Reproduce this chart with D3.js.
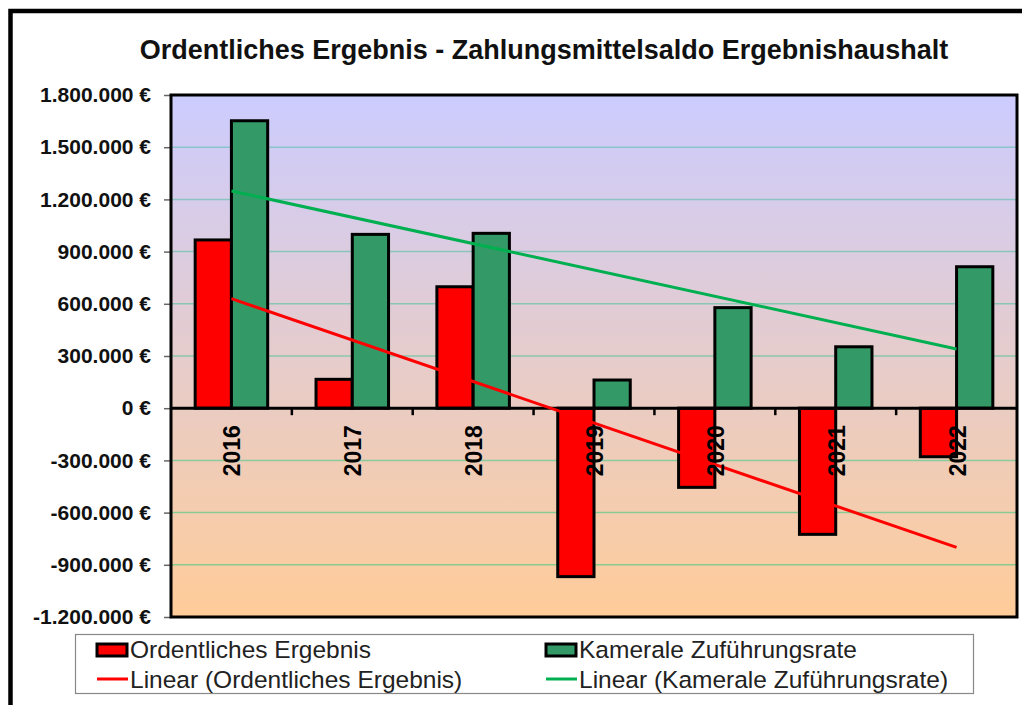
<!DOCTYPE html>
<html>
<head>
<meta charset="utf-8">
<script src="https://cdn.jsdelivr.net/npm/d3@7"></script>
<style>
  body { margin: 0; background: #fff; }
  text { font-family: "Liberation Sans", Arial, sans-serif; }
</style>
</head>
<body>
<script>
var years = ["2016", "2017", "2018", "2019", "2020", "2021", "2022"];
var ordentlich = [967000, 166000, 698000, -968000, -455000, -725000, -279000];
var kameral = [1652000, 999000, 1005000, 162000, 578000, 353000, 813000];
var yTicks = [-1200000, -900000, -600000, -300000, 0, 300000, 600000, 900000, 1200000, 1500000, 1800000];
var seriesNames = ["Ordentliches Ergebnis", "Kamerale Zuführungsrate"];

var width = 1022, height = 705;
var plotL = 171, plotR = 1017, plotT = 95, plotB = 617;

var de = d3.formatLocale({ decimal: ",", thousands: ".", grouping: [3], currency: ["", " €"], minus: "-" });
var fmt = de.format(",.0f");

var svg = d3.select("body").append("svg")
    .attr("width", width)
    .attr("height", height);

// outer frame
svg.append("rect")
    .attr("x", 10.5).attr("y", 11)
    .attr("width", 1030).attr("height", 720)
    .attr("fill", "#fff")
    .attr("stroke", "#000")
    .attr("stroke-width", 4.5);

var defs = svg.append("defs");
var grad = defs.append("linearGradient")
    .attr("id", "bg").attr("x1", 0).attr("y1", 0).attr("x2", 0).attr("y2", 1);
grad.append("stop").attr("offset", "0%").attr("stop-color", "#ccccff");
grad.append("stop").attr("offset", "100%").attr("stop-color", "#ffcc99");

var x = d3.scaleBand().domain(years).range([plotL, plotR]);
var y = d3.scaleLinear().domain([-1200000, 1800000]).range([plotB, plotT]);
var bw = x.bandwidth() * 0.3;

svg.append("rect")
    .attr("x", plotL).attr("y", plotT)
    .attr("width", plotR - plotL).attr("height", plotB - plotT)
    .attr("fill", "url(#bg)");

// gridlines, teal at top turning green at the bottom
var gridCol = d3.interpolateRgb("#8cc2d2", "#86cc86");
svg.append("g").selectAll("line")
    .data(yTicks.filter(function(d) { return d !== 0 && d !== 1800000 && d !== -1200000; }))
    .enter().append("line")
    .attr("x1", plotL).attr("x2", plotR)
    .attr("y1", function(d) { return y(d); })
    .attr("y2", function(d) { return y(d); })
    .attr("stroke", function(d) { return gridCol((y(d) - plotT) / (plotB - plotT)); })
    .attr("stroke-width", 1.5);

// y axis labels and ticks
var yAxis = svg.append("g")
    .attr("transform", "translate(" + plotL + ",0)")
    .call(d3.axisLeft(y).tickValues(yTicks).tickSize(7).tickPadding(13)
        .tickFormat(function(d) { return fmt(d) + " €"; }));
yAxis.select(".domain").remove();
yAxis.selectAll(".tick line").attr("stroke", "#666").attr("stroke-width", 1.5);
yAxis.selectAll("text")
    .attr("fill", "#111")
    .style("font-size", "21px")
    .style("font-weight", "bold")
    .style("font-family", "'Liberation Sans', Arial, sans-serif");

// bars
var bars = svg.append("g");
bars.selectAll(".red")
    .data(ordentlich)
    .enter().append("rect")
    .attr("x", function(d, i) { return x(years[i]) + x.bandwidth() / 2 - bw; })
    .attr("y", function(d) { return y(Math.max(0, d)); })
    .attr("width", bw)
    .attr("height", function(d) { return Math.abs(y(d) - y(0)); })
    .attr("fill", "#ff0000")
    .attr("stroke", "#000")
    .attr("stroke-width", 3);
bars.selectAll(".green")
    .data(kameral)
    .enter().append("rect")
    .attr("x", function(d, i) { return x(years[i]) + x.bandwidth() / 2; })
    .attr("y", function(d) { return y(Math.max(0, d)); })
    .attr("width", bw)
    .attr("height", function(d) { return Math.abs(y(d) - y(0)); })
    .attr("fill", "#339966")
    .attr("stroke", "#000")
    .attr("stroke-width", 3);

// category axis at zero
svg.append("line")
    .attr("x1", plotL).attr("x2", plotR)
    .attr("y1", y(0)).attr("y2", y(0))
    .attr("stroke", "#000").attr("stroke-width", 3);
svg.append("g").selectAll("line")
    .data(years.slice(1))
    .enter().append("line")
    .attr("x1", function(d) { return x(d); })
    .attr("x2", function(d) { return x(d); })
    .attr("y1", y(0)).attr("y2", y(0) + 7)
    .attr("stroke", "#000").attr("stroke-width", 2.5);

// linear trend lines (least squares over category index)
function trend(vals) {
    var n = vals.length, mx = (n - 1) / 2, my = d3.mean(vals);
    var sxy = d3.sum(vals, function(v, i) { return (i - mx) * (v - my); });
    var sxx = d3.sum(vals, function(v, i) { return (i - mx) * (i - mx); });
    var b = sxy / sxx;
    return [[0, my - b * mx], [n - 1, my + b * (n - 1 - mx)]];
}
var line = d3.line()
    .x(function(d) { return x(years[d[0]]) + x.bandwidth() / 2; })
    .y(function(d) { return y(d[1]); });
svg.append("path").attr("d", line(trend(ordentlich)))
    .attr("stroke", "#ff0000").attr("stroke-width", 3).attr("fill", "none");
svg.append("path").attr("d", line(trend(kameral)))
    .attr("stroke", "#00b050").attr("stroke-width", 3).attr("fill", "none");

// year labels, rotated
svg.append("g").selectAll("text")
    .data(years)
    .enter().append("text")
    .attr("transform", function(d) {
        return "translate(" + (x(d) + x.bandwidth() / 2 + 9) + "," + (y(0) + 17) + ") rotate(-90)";
    })
    .attr("text-anchor", "end")
    .attr("fill", "#000")
    .style("font-size", "23px")
    .style("font-weight", "bold")
    .text(function(d) { return d; });

// plot border
svg.append("rect")
    .attr("x", plotL).attr("y", plotT)
    .attr("width", plotR - plotL).attr("height", plotB - plotT)
    .attr("fill", "none").attr("stroke", "#000").attr("stroke-width", 3);

// title
svg.append("text")
    .attr("x", 544).attr("y", 59)
    .attr("text-anchor", "middle")
    .attr("fill", "#111")
    .style("font-size", "27px")
    .style("font-weight", "bold")
    .text("Ordentliches Ergebnis - Zahlungsmittelsaldo Ergebnishaushalt");

// legend
var lg = svg.append("g");
lg.append("rect")
    .attr("x", 75.5).attr("y", 634.5)
    .attr("width", 898).attr("height", 59)
    .attr("fill", "#fff").attr("stroke", "#888").attr("stroke-width", 1.2);
var cols = [97, 546];
var fills = ["#ff0000", "#339966"];
var trendCols = ["#ff0000", "#00b050"];
seriesNames.forEach(function(name, i) {
    lg.append("rect")
        .attr("x", cols[i]).attr("y", 644)
        .attr("width", 30).attr("height", 12)
        .attr("fill", fills[i]).attr("stroke", "#000").attr("stroke-width", 3);
    lg.append("text")
        .attr("x", cols[i] + 33).attr("y", 658)
        .attr("fill", "#222")
        .style("font-size", "24.5px")
        .text(name);
    lg.append("line")
        .attr("x1", cols[i]).attr("x2", cols[i] + 31)
        .attr("y1", 679).attr("y2", 679)
        .attr("stroke", trendCols[i]).attr("stroke-width", 3);
    lg.append("text")
        .attr("x", cols[i] + 33).attr("y", 688)
        .attr("fill", "#222")
        .style("font-size", "24.5px")
        .text("Linear (" + name + ")");
});
</script>
</body>
</html>
